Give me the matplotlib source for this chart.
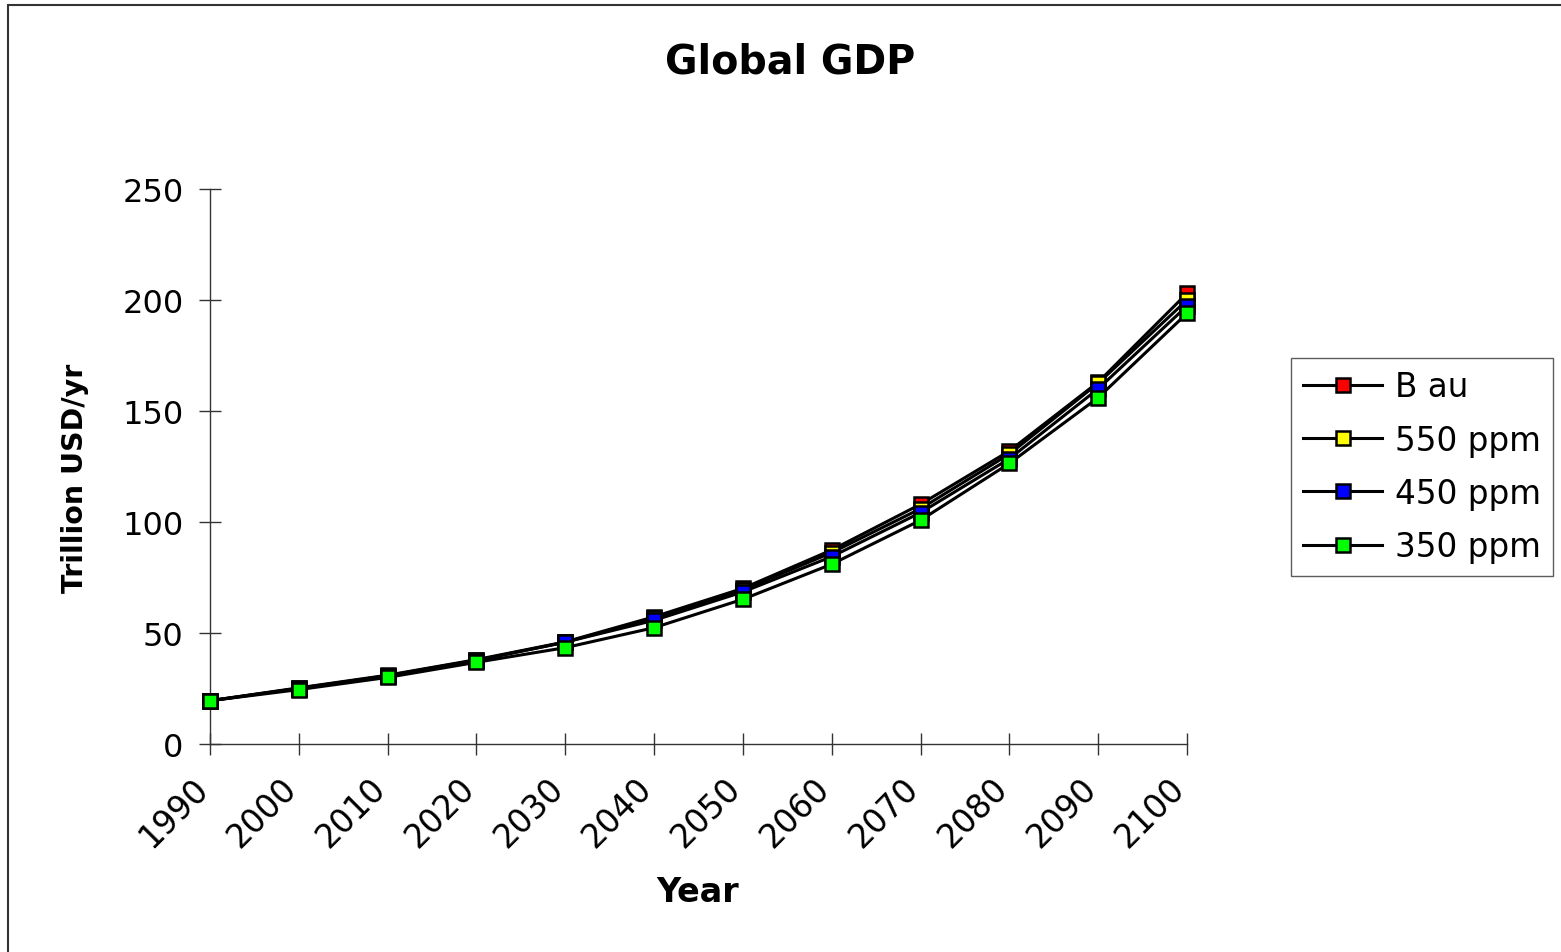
import matplotlib
matplotlib.use("Agg")
import matplotlib.pyplot as plt
import matplotlib.transforms as mtransforms
from matplotlib.patches import Rectangle

years = [1990, 2000, 2010, 2020, 2030, 2040, 2050, 2060, 2070, 2080, 2090, 2100]
bau = [19.5, 25.3, 31.0, 38.0, 46.0, 57.3, 70.1, 87.4, 108.0, 132.0, 163.0, 203.0]
ppm550 = [19.5, 25.1, 30.8, 37.8, 45.8, 56.8, 69.5, 86.2, 106.0, 130.6, 162.5, 200.0]
ppm450 = [19.5, 25.0, 30.6, 37.6, 45.9, 55.7, 68.5, 84.4, 104.2, 128.5, 160.0, 197.3]
ppm350 = [19.5, 24.5, 30.0, 36.8, 43.4, 52.4, 65.2, 81.0, 100.8, 126.4, 156.0, 194.0]
series_names = ["B au", "550 ppm", "450 ppm", "350 ppm"]
series_colors = ["#FF0000", "#FFFF00", "#0000FF", "#00FF00"]
yticks = [0, 50, 100, 150, 200, 250]

plt.rcParams['font.family'] = ['DejaVu Sans']

fig = plt.figure(figsize=(15.61, 9.53), dpi=100)
W, H = 1561, 953
ax = fig.add_axes([210 / W, 1 - 745 / H, (1187 - 210) / W, (745 - 190) / H])

for vals, name, col in zip([bau, ppm550, ppm450, ppm350], series_names, series_colors):
    ax.plot(years, vals, color='black', lw=2.2, marker='s', markersize=10,
            markerfacecolor=col, markeredgecolor='black', markeredgewidth=1.8,
            label=name, clip_on=False, zorder=3)

ax.set_xlim(1990, 2100)
ax.set_ylim(0, 250)
ax.set_xticks(years)
ax.set_xticklabels([str(y) for y in years], rotation=45, ha='right', va='center',
                   rotation_mode='anchor', fontsize=23.5)
ax.set_yticks(yticks)
ax.set_yticklabels([str(v) for v in yticks], fontsize=23)
ax.tick_params(axis='both', direction='inout', length=16, width=1, color='#333333')
ax.tick_params(axis='y', pad=11)
ax.tick_params(axis='x', pad=20)
for s in ['top', 'right']:
    ax.spines[s].set_visible(False)
for s in ['left', 'bottom']:
    ax.spines[s].set_color('#333333')
    ax.spines[s].set_linewidth(1)

offset = mtransforms.ScaledTranslation(-0.07, 0, fig.dpi_scale_trans)
for lbl in ax.get_xticklabels():
    lbl.set_transform(lbl.get_transform() + offset)

fig.text(790 / W, 1 - 62 / H, "Global GDP", ha='center', va='center',
         fontsize=28.5, fontweight='bold')
fig.text(698 / W, 1 - 893 / H, "Year", ha='center', va='center',
         fontsize=24, fontweight='bold')
fig.text(75 / W, 1 - 478 / H, "Trillion USD/yr", ha='center', va='center',
         fontsize=20.5, fontweight='bold', rotation=90)

leg = ax.legend(loc='upper left', bbox_to_anchor=(1291 / W, 1 - 359 / H),
                bbox_transform=fig.transFigure, borderaxespad=0, fontsize=23.5,
                frameon=True, fancybox=False, edgecolor='#333333',
                handlelength=2.4, labelspacing=0.62, handletextpad=0.4,
                borderpad=0.38)
leg.get_frame().set_linewidth(1)

fig.patches.append(Rectangle((8 / W, -0.05), 1.2, 1 - 6 / H + 0.05,
                             transform=fig.transFigure, fill=False,
                             edgecolor='#333333', lw=1.5, zorder=0))

fig.savefig("out.png", dpi=100)
